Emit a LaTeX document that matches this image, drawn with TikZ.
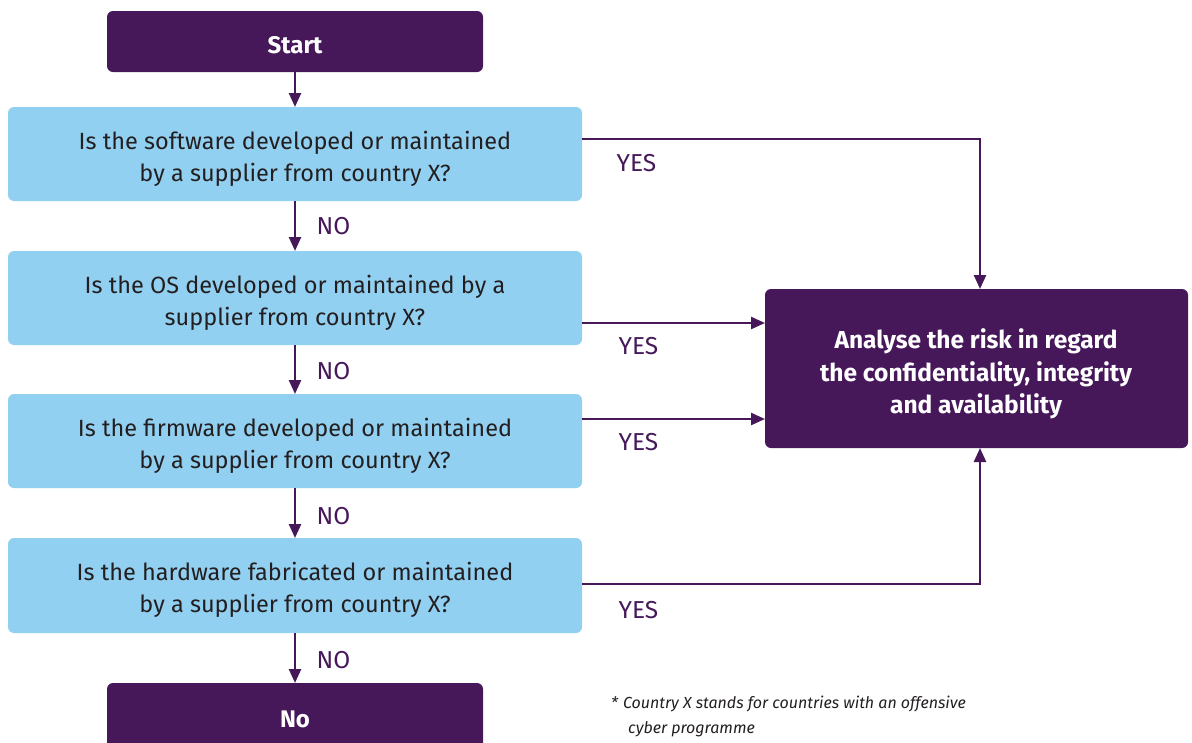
\documentclass[tikz,border=0pt]{standalone}
\usepackage{fontspec}
\setmainfont{Fira Sans}
\usetikzlibrary{arrows.meta}
\definecolor{plum}{RGB}{70,24,90}
\definecolor{sky}{RGB}{146,208,242}
\definecolor{ink}{RGB}{35,31,32}
\begin{document}
\begin{tikzpicture}[x=1pt,y=-1pt,
  termbox/.style={fill=plum,rounded corners=6pt,text=white,font=\fontsize{24}{25}\selectfont\bfseries,align=center},
  askbox/.style={fill=sky,rounded corners=6pt,text=ink,font=\fontsize{23.5}{32}\selectfont,align=center},
  flow/.style={draw=plum,line width=2.4pt,-{Triangle[length=14pt,width=12pt]}},
  lbl/.style={text=plum,font=\fontsize{24.5}{26}\selectfont,anchor=west}]
\useasboundingbox (0,0) rectangle (1192,742);
% terminal and question boxes
\path[termbox] (107,11) rectangle (483,72);
\node[termbox,fill=none] (start) at (295,45) {Start};
\coordinate (startB) at (295,72);
\path[askbox] (8,107) rectangle (582,201);
\node[askbox,fill=none] (q1) at (295,159) {Is the software developed or maintained\\by a supplier from country X?};
\path[askbox] (8,251) rectangle (582,345);
\node[askbox,fill=none] (q2) at (295,303) {Is the OS developed or maintained by a\\supplier from country X?};
\path[askbox] (8,394) rectangle (582,488);
\node[askbox,fill=none] (q3) at (295,446) {Is the firmware developed or maintained\\by a supplier from country X?};
\path[askbox] (8,538) rectangle (582,633);
\node[askbox,fill=none] (q4) at (295,590) {Is the hardware fabricated or maintained\\by a supplier from country X?};
\path[termbox] (107,683) rectangle (483,760);
\node[termbox,fill=none] (no) at (295,719) {No};
\path[termbox] (765,289) rectangle (1188,448);
\node[termbox,fill=none,font=\fontsize{24.5}{32.5}\selectfont\bfseries] (risk) at (976,374) {Analyse the risk in regard\\the confidentiality, integrity\\and availability};
% anchor points on the box edges
\coordinate (q1T) at (295,107); \coordinate (q1B) at (295,201); \coordinate (q1R) at (582,139);
\coordinate (q2T) at (295,251); \coordinate (q2B) at (295,345); \coordinate (q2R) at (582,323);
\coordinate (q3T) at (295,394); \coordinate (q3B) at (295,488); \coordinate (q3R) at (582,419);
\coordinate (q4T) at (295,538); \coordinate (q4B) at (295,633); \coordinate (q4R) at (582,584);
\coordinate (noT) at (295,683);
\coordinate (riskT) at (980,289); \coordinate (riskB) at (980,448);
\coordinate (riskL2) at (765,323); \coordinate (riskL3) at (765,419);
% NO path
\draw[flow] (startB) -- (q1T);
\draw[flow] (q1B) -- (q2T);
\draw[flow] (q2B) -- (q3T);
\draw[flow] (q3B) -- (q4T);
\draw[flow] (q4B) -- (noT);
% YES paths
\draw[flow] (q1R) -| (riskT);
\draw[flow] (q2R) -- (riskL2);
\draw[flow] (q3R) -- (riskL3);
\draw[flow] (q4R) -| (riskB);
% labels
\node[lbl] at (313,226) {NO};
\node[lbl] at (313,371) {NO};
\node[lbl] at (313,516) {NO};
\node[lbl] at (313,660) {NO};
\node[lbl] at (613,163) {YES};
\node[lbl] at (615,346) {YES};
\node[lbl] at (615,442) {YES};
\node[lbl] at (615,610) {YES};
% footnote
\node[anchor=north west,text=ink,font=\fontsize{16}{25}\selectfont\itshape,align=left,inner sep=0pt] (fn) at (611,696)
  {*\hspace{5pt}Country X stands for countries with an offensive\\\hspace{17pt}cyber programme};
\end{tikzpicture}
\end{document}
